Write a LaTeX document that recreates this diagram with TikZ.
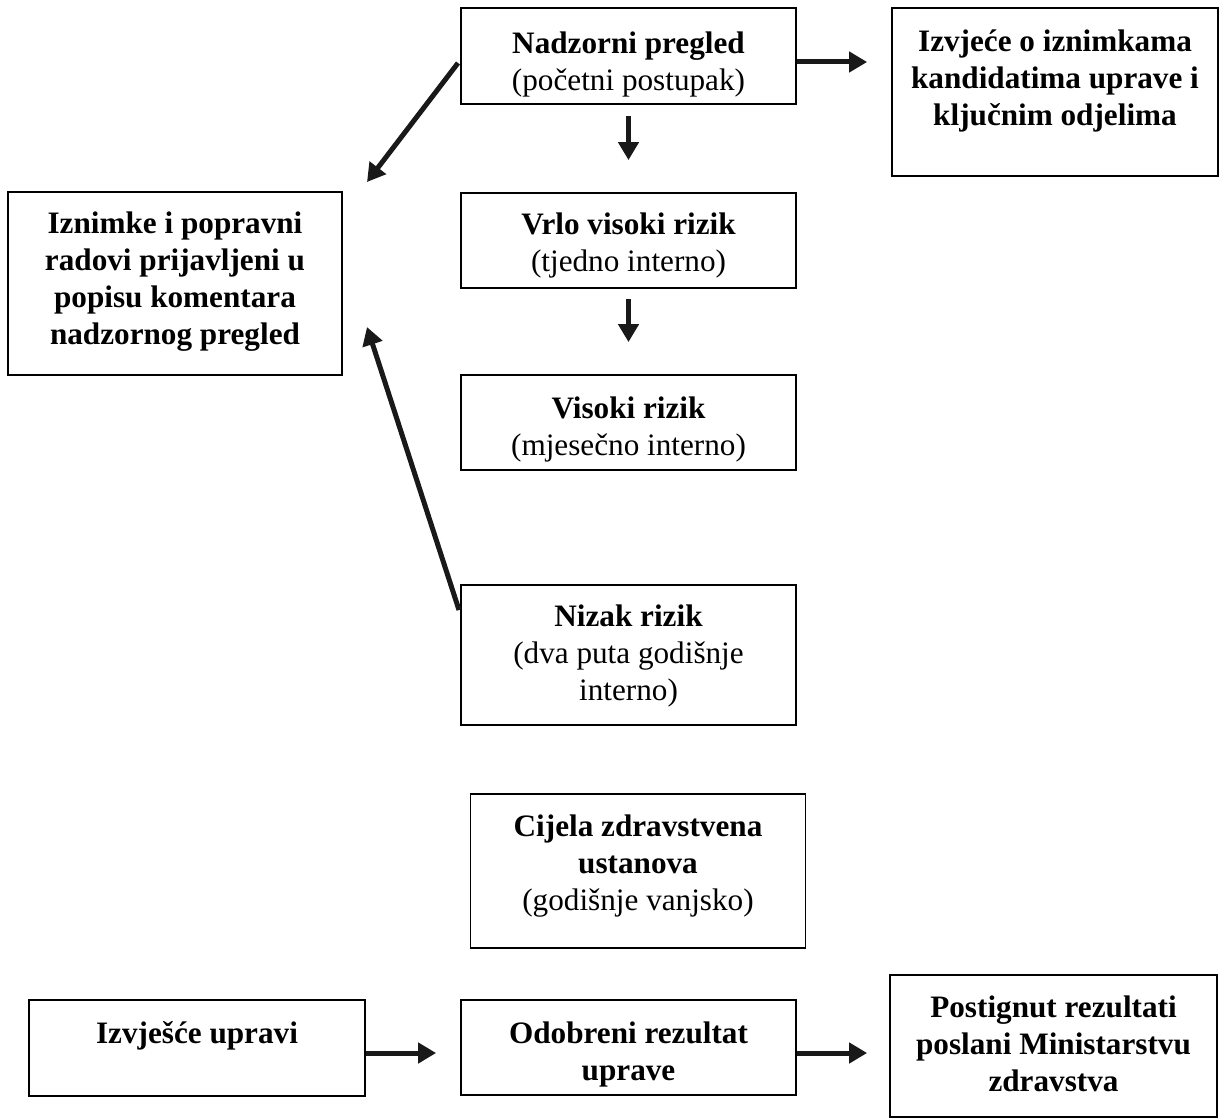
\documentclass[tikz,border=0pt]{standalone}
\usepackage{fontspec}
\setmainfont{Liberation Serif}
\usetikzlibrary{arrows.meta}
\tikzset{
  box/.style={draw=black, line width=0.9pt, rectangle, inner sep=0pt},
  txt/.style={inner sep=0pt, align=center, font=\fontsize{15.6}{18.5}\selectfont},
  flow/.style={line width=2.5pt, color=black!90, -{Triangle[length=9pt,width=10pt]}}
}
\begin{document}
\begin{tikzpicture}[x=0.5pt,y=-0.5pt]
\useasboundingbox (0,0) rectangle (1219,1118);
% boxes
\node[box, minimum width=167.5pt, minimum height=48pt] (nadz) at (628.5,56) {};
\node[box, minimum width=163pt, minimum height=84pt] (izvj) at (1055,92) {};
\node[box, minimum width=167.5pt, minimum height=47.5pt] (vrlo) at (628.5,240.5) {};
\node[box, minimum width=167.5pt, minimum height=47.5pt] (visoki) at (628.5,422.5) {};
\node[box, minimum width=167.5pt, minimum height=70pt] (nizak) at (628.5,655) {};
\node[box, minimum width=167pt, minimum height=91.5pt] (izn) at (175,283.5) {};
\node[box, minimum width=167.5pt, minimum height=77pt] (cij) at (638,871) {};
\node[box, minimum width=168pt, minimum height=48pt] (upr) at (197,1048) {};
\node[box, minimum width=167.5pt, minimum height=47.5pt] (odo) at (628.5,1047.5) {};
\node[box, minimum width=163.5pt, minimum height=71pt] (post) at (1053.5,1046) {};
% texts
\node[txt] (nadzT) at (628.5,64) {\textbf{Nadzorni pregled}\\(početni postupak)};
\node[txt] (izvjT) at (1055,81) {\textbf{Izvjeće o iznimkama}\\\textbf{kandidatima uprave i}\\\textbf{ključnim odjelima}};
\node[txt] (vrloT) at (628.5,245) {\textbf{Vrlo visoki rizik}\\(tjedno interno)};
\node[txt] (visokiT) at (628.5,429) {\textbf{Visoki rizik}\\(mjesečno interno)};
\node[txt] (nizakT) at (628.5,656) {\textbf{Nizak rizik}\\(dva puta godišnje\\interno)};
\node[txt] (iznT) at (175,282) {\textbf{Iznimke i popravni}\\\textbf{radovi prijavljeni u}\\\textbf{popisu komentara}\\\textbf{nadzornog pregled}};
\node[txt] (cijT) at (638,866) {\textbf{Cijela zdravstvena}\\\textbf{ustanova}\\(godišnje vanjsko)};
\node[txt] (uprT) at (197,1036) {\textbf{Izvješće upravi}};
\node[txt] (odoT) at (628.5,1054) {\textbf{Odobreni rezultat}\\\textbf{uprave}};
\node[txt] (postT) at (1053.5,1044) {\textbf{Postignut rezultati}\\\textbf{poslani Ministarstvu}\\\textbf{zdravstva}};
% free-end coordinates
\coordinate (t1) at (367,182);
\coordinate (t2) at (367,327);
\coordinate (s1) at (458,63);
\coordinate (s2) at (459,610);
% connectors
\draw[flow] (s1) -- (t1);
\draw[flow] (s2) -- (t2);
\draw[flow] (nadz.east |- 0,62) -- ([xshift=-12pt]izvj.west |- 0,62);
\draw[flow, shorten <=5.5pt, shorten >=16pt] (nadz.south) -- (vrlo.north);
\draw[flow, shorten <=5pt, shorten >=16pt] (vrlo.south) -- (visoki.north);
\draw[flow] (upr.east |- 0,1053) -- ([xshift=-12pt]odo.west |- 0,1053);
\draw[flow] (odo.east |- 0,1053) -- ([xshift=-11pt]post.west |- 0,1053);
\end{tikzpicture}
\end{document}
